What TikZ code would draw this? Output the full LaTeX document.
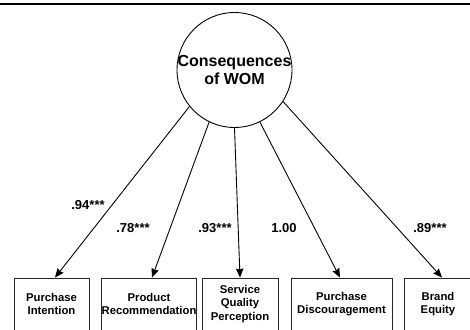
\documentclass[tikz,border=0pt]{standalone}
\usepackage{fontspec}
\setmainfont{Liberation Sans}
\usetikzlibrary{arrows.meta}
\tikzset{
  construct/.style={circle, draw, line width=0.9pt, minimum size=115pt, inner sep=0pt},
  indicator/.style={draw=black!85, line width=0.9pt, minimum width=#1, minimum height=52pt,
    inner sep=0pt, align=center, font=\fontsize{11.3}{13.6}\selectfont\bfseries},
  loading/.style={-{Stealth[length=9pt,width=7.5pt,inset=1pt]}, line width=0.9pt},
  coef/.style={font=\fontsize{13}{15}\selectfont\bfseries, inner sep=0pt}
}
\begin{document}
\begin{tikzpicture}[x=1pt,y=-1pt]
\useasboundingbox (0,0) rectangle (470,329);
\clip (0,0) rectangle (470,329);
% heading rule
\draw[line width=2.8pt] (0,4) -- (470,4);
% latent construct
\node[construct] (c) at (234.5,70) {};
\node[font=\fontsize{16}{17.5}\selectfont\bfseries, align=center, inner sep=0pt] (ct) at (234.5,70) {Consequences\\of WOM};
% observed indicators
\node[indicator=75pt]  (b1) at (51.5,304) {Purchase\\Intention};
\node[indicator=94pt]  (b2) at (149,304)  {Product\\Recommendation};
\node[indicator=76pt]  (b3) at (240,304)  {Service\\Quality\\Perception};
\node[indicator=101pt] (b4) at (341.5,304) {Purchase\\Discouragement};
\node[indicator=68pt]  (b5) at (438,304)  {Brand\\Equity};
% factor loadings
\draw[loading] (c.219) -- ([xshift=3.5pt]b1.north);
\draw[loading] (c.244) -- ([xshift=3pt]b2.north);
\draw[loading] (c.270) -- ([xshift=0pt]b3.north);
\draw[loading] (c.296) -- ([xshift=-1.5pt]b4.north);
\draw[loading] (c.327) -- ([xshift=4pt]b5.north);
\node[coef] (l1) at (88,205)  {.94***};
\node[coef] (l2) at (133,228) {.78***};
\node[coef] (l3) at (215,228) {.93***};
\node[coef] (l4) at (284,228) {1.00};
\node[coef] (l5) at (430,228) {.89***};
\end{tikzpicture}
\end{document}
